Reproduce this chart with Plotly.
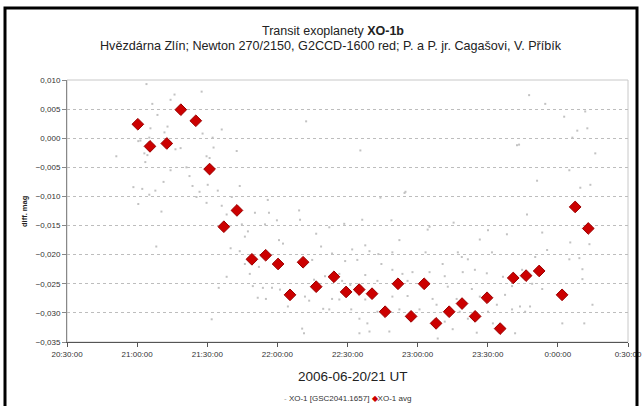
import plotly.graph_objects as go
import pandas as pd

BASE = pd.Timestamp("2006-06-20 20:30:00")

# XO-1 avg (minutes after 20:30 UT, diff. mag)
avg_minutes = [30.3, 35.5, 42.7, 48.7, 55.1, 61.0, 67.1, 72.7, 79.1, 85.0,
               90.3, 95.4, 101.0, 106.6, 114.2, 119.4, 125.0, 130.5, 136.1, 141.6,
               147.2, 152.8, 157.9, 163.5, 169.0, 174.6, 179.7, 185.3, 190.9, 196.4,
               202.0, 211.8, 217.4, 223.0]
avg_mag = [0.0024, -0.0014, -0.0009, 0.0049, 0.0030, -0.0053, -0.0152, -0.0124, -0.0208, -0.0201,
           -0.0216, -0.0269, -0.0213, -0.0255, -0.0238, -0.0264, -0.0260, -0.0267, -0.0298, -0.0250,
           -0.0306, -0.0250, -0.0318, -0.0298, -0.0284, -0.0306, -0.0274, -0.0327, -0.0240, -0.0236,
           -0.0228, -0.0269, -0.0118, -0.0155]

# XO-1 [GSC2041.1657] individual measurements
raw_minutes = [
    34.0, 46.0, 44.3, 36.5, 38.7, 43.0, 35.7, 41.7, 31.4, 30.5, 35.2, 46.4, 48.6, 21.1, 33.1, 34.4,
    33.5, 44.3, 41.3, 28.4, 32.2, 37.8, 35.2, 30.5, 40.4, 38.2,
    57.6, 66.2, 58.0, 62.3, 62.7, 59.7, 61.0, 51.1, 52.4, 72.6, 53.7, 60.2, 73.9, 64.5, 56.7, 55.4,
    70.5, 59.7, 66.2, 85.9, 68.3, 80.4, 86.4, 89.8, 84.7, 74.8, 77.4, 76.1, 90.7, 92.4, 70.0, 73.9,
    83.8, 76.1, 82.1, 78.2, 68.3, 64.9, 79.5, 83.8, 87.7, 91.1, 81.6, 85.1, 94.5, 61.9, 94.1,
    102.3, 125.5, 134.1, 144.4, 99.3, 99.7, 118.6, 126.3, 138.8, 106.6, 112.2, 142.2, 108.7, 122.0,
    113.4, 127.6, 129.4, 133.2, 139.2, 104.9, 119.0, 124.2, 134.5, 139.2, 110.4, 116.5, 127.6, 105.7,
    117.7, 121.2, 132.8, 143.5, 101.8, 113.4, 116.5, 127.6, 139.2, 103.6, 109.6, 112.2, 121.6, 132.8,
    142.2, 125.1, 128.5, 100.6, 101.4, 125.1, 129.4, 137.9,
    192.5, 144.8, 165.4, 155.1, 154.3, 180.1, 188.2, 176.6, 153.4, 167.2, 181.8, 168.9, 171.5, 160.7,
    174.5, 147.8, 155.1, 169.3, 179.6, 161.6, 186.5, 145.7, 162.9, 173.2, 190.4, 145.7, 156.4, 166.7,
    176.6, 187.4, 158.1, 183.9, 150.8, 168.0, 180.1, 190.4, 161.6, 171.5, 182.2, 165.0, 175.3, 191.7,
    158.6,
    197.7, 204.6, 212.7, 221.7, 218.3, 222.6, 216.2, 193.4, 226.0, 214.9, 201.1, 223.9, 219.6, 196.8,
    203.3, 215.3, 223.5, 205.4, 214.9, 219.2, 200.3, 194.7, 220.5, 199.0, 203.3, 220.5, 193.8, 198.1,
    224.8, 196.0, 211.9, 221.3]
raw_mag = [
    0.0093, 0.0075, 0.0066, 0.0059, 0.0040, 0.0020, 0.0017, 0.0010, -0.0004, -0.0005, 0.0001, -0.0019,
    -0.0017, -0.0031, -0.0026, -0.0029, -0.0041, -0.0055, -0.0075, -0.0084, -0.0087, -0.0090, -0.0097,
    -0.0113, -0.0126, -0.0186,
    0.0080, 0.0015, 0.0008, 0.0001, -0.0016, -0.0031, -0.0034, -0.0050, -0.0065, -0.0022, -0.0082,
    -0.0080, -0.0082, -0.0090, -0.0092, -0.0101, -0.0101, -0.0111, -0.0116, -0.0106, -0.0131, -0.0128,
    -0.0128, -0.0141, -0.0148, -0.0148, -0.0160, -0.0169, -0.0175, -0.0181, -0.0189, -0.0194, -0.0199,
    -0.0216, -0.0221, -0.0233, -0.0238, -0.0257, -0.0254, -0.0257, -0.0257, -0.0260, -0.0274, -0.0276,
    -0.0289, -0.0311, -0.0266,
    0.0029, -0.0021, -0.0102, -0.0094, -0.0124, -0.0140, -0.0147, -0.0140, -0.0141, -0.0164, -0.0153,
    -0.0175, -0.0186, -0.0191, -0.0198, -0.0184, -0.0194, -0.0199, -0.0196, -0.0209, -0.0211, -0.0209,
    -0.0216, -0.0226, -0.0237, -0.0233, -0.0235, -0.0243, -0.0245, -0.0252, -0.0245, -0.0233, -0.0272,
    -0.0276, -0.0277, -0.0277, -0.0272, -0.0279, -0.0293, -0.0294, -0.0294, -0.0298, -0.0294, -0.0310,
    -0.0318, -0.0327, -0.0335, -0.0335, -0.0332, -0.0332,
    -0.0012, -0.0092, -0.0145, -0.0152, -0.0157, -0.0158, -0.0165, -0.0174, -0.0196, -0.0196, -0.0196,
    -0.0204, -0.0208, -0.0216, -0.0226, -0.0230, -0.0230, -0.0230, -0.0232, -0.0237, -0.0238, -0.0245,
    -0.0255, -0.0259, -0.0254, -0.0271, -0.0276, -0.0276, -0.0272, -0.0269, -0.0286, -0.0286, -0.0294,
    -0.0298, -0.0298, -0.0294, -0.0315, -0.0310, -0.0318, -0.0328, -0.0334, -0.0335, -0.0344,
    0.0074, 0.0059, 0.0037, 0.0046, 0.0013, 0.0017, 0.0001, -0.0011, -0.0026, -0.0055, -0.0073, -0.0080,
    -0.0085, -0.0131, -0.0162, -0.0179, -0.0182, -0.0192, -0.0208, -0.0206, -0.0204, -0.0226, -0.0225,
    -0.0250, -0.0259, -0.0242, -0.0289, -0.0289, -0.0286, -0.0298, -0.0318, -0.0318]

y_tick_values = [0.010, 0.005, 0.000, -0.005, -0.010, -0.015, -0.020, -0.025, -0.030, -0.035]
x_tick_minutes = [0, 30, 60, 90, 120, 150, 180, 210, 240]
x_tick_labels = ["20:30:00", "21:00:00", "21:30:00", "22:00:00", "22:30:00",
                 "23:00:00", "23:30:00", "0:00:00", "0:30:00"]

series_names = ["XO-1 [GSC2041.1657]", "XO-1 avg"]
title_text = "Transit exoplanety <b>XO-1b</b>"
subtitle_text = "Hvězdárna Zlín; Newton 270/2150, G2CCD-1600 red; P. a P. jr. Cagašovi, V. Příbík"
x_title = "2006-06-20/21 UT"
y_title = "<b>diff. mag</b>"

RED = "#cc0000"
GRAY = "#c2c2c2"


def to_time(minutes):
    return [BASE + pd.Timedelta(minutes=m) for m in minutes]


FONT = "Arial, 'Liberation Sans', sans-serif"

fig = go.Figure()
fig.add_trace(go.Scatter(
    x=to_time(raw_minutes), y=raw_mag, mode="markers", name=series_names[0],
    marker=dict(symbol="square", size=2, color=GRAY, line=dict(width=0)),
    showlegend=False,
))
fig.add_trace(go.Scatter(
    x=to_time(avg_minutes), y=avg_mag, mode="markers", name=series_names[1],
    marker=dict(symbol="diamond", size=9, color=RED, line=dict(width=1, color="#9a0000")),
    showlegend=False,
))

W, H = 643, 406
L, R, T, B = 67, 15, 80, 64
PW, PH = W - L - R, H - T - B


def px(x):
    return (x - L) / PW


def py(y):
    return (H - B - y) / PH


legend_text = (f"<span style='color:#9a9a9a'>-</span> {series_names[0]} "
               f"<span style='color:{RED}'>◆</span>{series_names[1]}")

fig.update_layout(
    width=W, height=H,
    margin=dict(l=L, r=R, t=T, b=B, autoexpand=False),
    paper_bgcolor="white", plot_bgcolor="white",
    separators=", ",
    font=dict(family=FONT, color="#222222"),
    showlegend=False,
    xaxis=dict(
        type="date", automargin=False,
        range=[BASE, BASE + pd.Timedelta(minutes=240)],
        tickvals=to_time(x_tick_minutes), ticktext=x_tick_labels,
        showgrid=False, zeroline=False,
        showline=True, linecolor="#555555", linewidth=1,
        ticks="outside", ticklen=4, tickcolor="#555555",
        tickfont=dict(size=8, color="#333333"),
    ),
    yaxis=dict(
        automargin=False,
        range=[-0.035, 0.010],
        tickvals=y_tick_values, tickformat=".3f",
        showgrid=True, gridcolor="#bdbdbd", griddash="dot", gridwidth=1,
        zeroline=False,
        showline=True, linecolor="#888888", linewidth=1,
        ticks="outside", ticklen=4, tickcolor="#888888",
        tickfont=dict(size=8, color="#333333"),
    ),
    shapes=[
        dict(type="rect", xref="paper", yref="paper", x0=0, x1=1, y0=0, y1=1,
             line=dict(color="#c8c8c8", width=1), layer="below"),
        dict(type="rect", xref="paper", yref="paper", x0=px(5), x1=px(637), y0=py(420), y1=py(8),
             line=dict(color="black", width=3)),
    ],
    annotations=[
        dict(text=title_text, xref="paper", yref="paper", x=px(333), y=py(31), showarrow=False,
             xanchor="center", yanchor="middle", font=dict(size=12.5, color="#222222")),
        dict(text=subtitle_text, xref="paper", yref="paper", x=px(331), y=py(46), showarrow=False,
             xanchor="center", yanchor="middle", font=dict(size=12.6, color="#222222")),
        dict(text=x_title, xref="paper", yref="paper", x=px(353), y=py(376), showarrow=False,
             xanchor="center", yanchor="middle", font=dict(size=13.5, color="#222222")),
        dict(text=y_title, xref="paper", yref="paper", x=px(24), y=py(211), showarrow=False,
             xanchor="center", yanchor="middle", textangle=-90, font=dict(size=7.5, color="#222222")),
        dict(text=legend_text, xref="paper", yref="paper", x=px(347), y=py(398), showarrow=False,
             xanchor="center", yanchor="middle", font=dict(size=8, color="#333333")),
    ],
)

fig.write_html(
    "out.html",
    config={"displayModeBar": False},
    post_script="document.body.style.margin='0';document.body.style.overflow='hidden';",
)
